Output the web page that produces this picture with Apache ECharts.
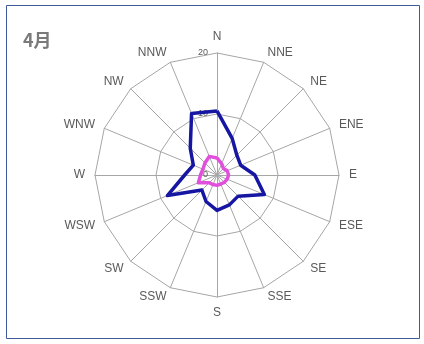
<!DOCTYPE html>
<html>
<head>
<meta charset="utf-8">
<script src="https://cdn.jsdelivr.net/npm/echarts@6/dist/echarts.min.js"></script>
<style>
  html, body { margin: 0; padding: 0; background: #fff; }
  #chart { width: 424px; height: 344px; }
</style>
</head>
<body>
<div id="chart"></div>
<script>
// 16-point compass directions, clockwise from north
const directions = ['N', 'NNE', 'NE', 'ENE', 'E', 'ESE', 'SE', 'SSE',
                    'S', 'SSW', 'SW', 'WSW', 'W', 'WNW', 'NW', 'NNW'];
// Frequency per direction (%)
const seriesBlue = [10.5, 6.5, 4.6, 4.2, 6.2, 8.4, 4.9, 5.3,
                    5.8, 4.7, 3.5, 8.8, 5.3, 4.2, 6.2, 10.9];
const seriesPink = [2.8, 2.0, 1.5, 1.8, 1.9, 1.8, 1.7, 1.6,
                    1.7, 1.7, 1.8, 3.3, 2.7, 2.5, 2.8, 3.3];
const axisMax = 20;
const title = '4月';

// ECharts lays radar axes out counter-clockwise, so feed them in
// reverse compass order (keeping N first) to get a clockwise rose.
const order = directions.map((_, i) => (directions.length - i) % directions.length);
const reorder = arr => order.map(i => arr[i]);

const chart = echarts.init(document.getElementById('chart'), null, { renderer: 'canvas' });

const indicators = order.map((idx, i) => {
  const ind = { name: directions[idx], min: 0, max: axisMax };
  // scale labels only along the north spoke
  if (i === 0) ind.axisLabel = { show: true };
  return ind;
});

chart.setOption({
  animation: false,
  title: {
    text: title,
    left: 18,
    top: 26,
    textStyle: { fontFamily: 'Noto Sans CJK JP', fontSize: 18, fontWeight: 'bold', color: '#7a7a7a' }
  },
  graphic: [{
    type: 'rect',
    shape: { x: 6.5, y: 5.5, width: 413, height: 333 },
    style: { fill: 'none', stroke: '#3d5b9b', lineWidth: 1 },
    silent: true
  }],
  radar: {
    center: [217, 175],
    radius: 122,
    startAngle: 90,
    shape: 'polygon',
    splitNumber: 2,
    indicator: indicators,
    axisName: { color: '#595959', fontSize: 12, fontFamily: 'Liberation Sans' },
    nameGap: 10,
    axisLine: { lineStyle: { color: '#a6a6a6', width: 1 } },
    splitLine: { lineStyle: { color: '#a6a6a6', width: 1 } },
    splitArea: { show: false },
    axisTick: { show: false },
    axisLabel: { show: false, color: '#595959', fontSize: 9, margin: 9, fontFamily: 'Liberation Sans' }
  },
  series: [{
    type: 'radar',
    symbol: 'none',
    data: [
      { value: reorder(seriesBlue), lineStyle: { color: '#1616a3', width: 3.5 }, itemStyle: { color: '#1616a3' } },
      { value: reorder(seriesPink), lineStyle: { color: '#e050dc', width: 3.5 }, itemStyle: { color: '#e050dc' } }
    ]
  }]
});
</script>
</body>
</html>
